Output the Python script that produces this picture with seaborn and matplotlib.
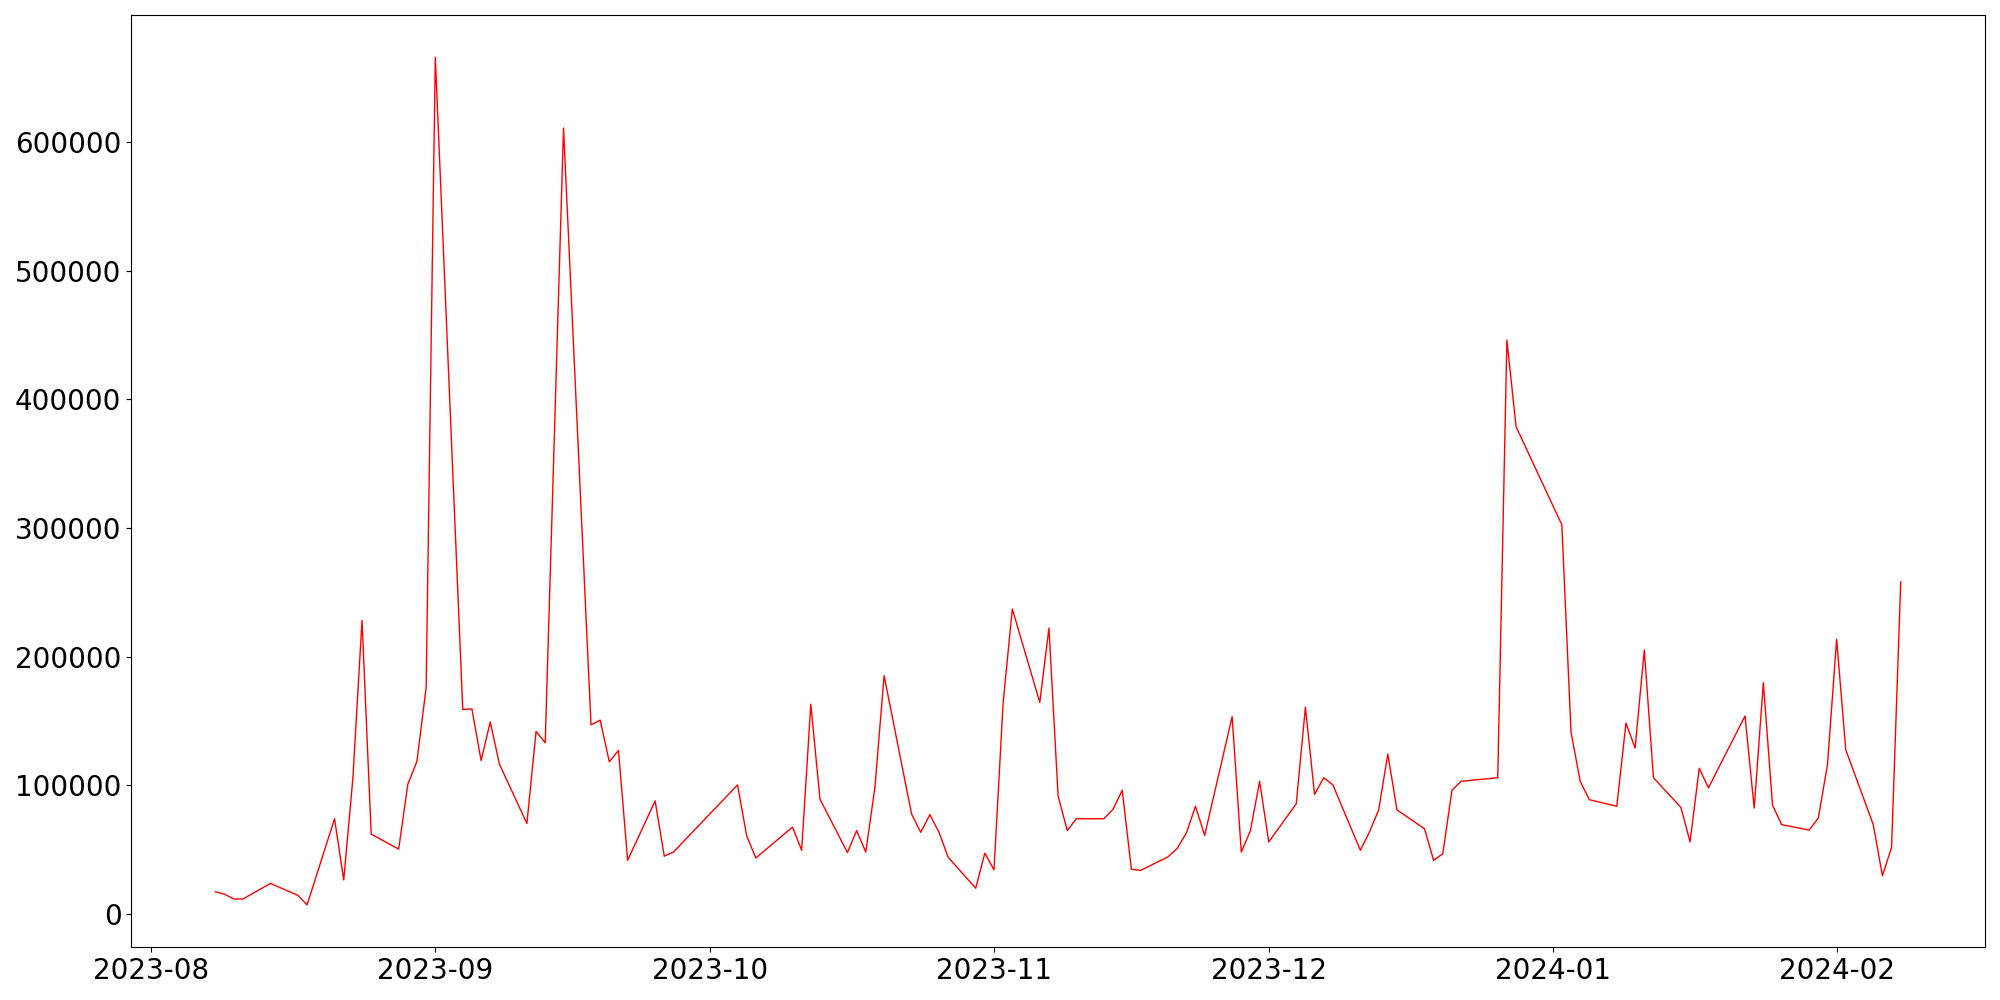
import pandas as pd
import matplotlib
matplotlib.use('Agg')
import matplotlib.pyplot as plt
import seaborn as sns

# Daily values (weekdays mostly, gaps on weekends)
dates = [
    '2023-08-08', '2023-08-09', '2023-08-10', '2023-08-11', '2023-08-14', '2023-08-17',
    '2023-08-18', '2023-08-21', '2023-08-22', '2023-08-23', '2023-08-24', '2023-08-25',
    '2023-08-28', '2023-08-29', '2023-08-30', '2023-08-31', '2023-09-01', '2023-09-04',
    '2023-09-05', '2023-09-06', '2023-09-07', '2023-09-08', '2023-09-11', '2023-09-12',
    '2023-09-13', '2023-09-15', '2023-09-18', '2023-09-19', '2023-09-20', '2023-09-21',
    '2023-09-22', '2023-09-25', '2023-09-26', '2023-09-27', '2023-10-04', '2023-10-05',
    '2023-10-06', '2023-10-10', '2023-10-11', '2023-10-12', '2023-10-13', '2023-10-16',
    '2023-10-17', '2023-10-18', '2023-10-19', '2023-10-20', '2023-10-23', '2023-10-24',
    '2023-10-25', '2023-10-26', '2023-10-27', '2023-10-30', '2023-10-31', '2023-11-01',
    '2023-11-02', '2023-11-03', '2023-11-06', '2023-11-07', '2023-11-08', '2023-11-09',
    '2023-11-10', '2023-11-13', '2023-11-14', '2023-11-15', '2023-11-16', '2023-11-17',
    '2023-11-20', '2023-11-21', '2023-11-22', '2023-11-23', '2023-11-24', '2023-11-27',
    '2023-11-28', '2023-11-29', '2023-11-30', '2023-12-01', '2023-12-04', '2023-12-05',
    '2023-12-06', '2023-12-07', '2023-12-08', '2023-12-11', '2023-12-12', '2023-12-13',
    '2023-12-14', '2023-12-15', '2023-12-18', '2023-12-19', '2023-12-20', '2023-12-21',
    '2023-12-22', '2023-12-26', '2023-12-27', '2023-12-28', '2024-01-02', '2024-01-03',
    '2024-01-04', '2024-01-05', '2024-01-08', '2024-01-09', '2024-01-10', '2024-01-11',
    '2024-01-12', '2024-01-15', '2024-01-16', '2024-01-17', '2024-01-18', '2024-01-22',
    '2024-01-23', '2024-01-24', '2024-01-25', '2024-01-26', '2024-01-29', '2024-01-30',
    '2024-01-31', '2024-02-01', '2024-02-02', '2024-02-05', '2024-02-06', '2024-02-07',
    '2024-02-08',
]

values = [
    17100, 15200, 11500, 11500, 23600, 14300,
    6900, 73900, 26300, 105300, 228200, 61900,
    50300, 100700, 118700, 176000, 666000, 158900,
    159300, 119200, 149200, 116400, 70200, 141800,
    133000, 611000, 146900, 150600, 118200, 127000,
    41600, 87800, 44800, 48000, 100200, 60500,
    43400, 67400, 49400, 163000, 89100, 47600,
    64700, 48000, 98400, 185200, 77600, 63300,
    77100, 63300, 43900, 19900, 47100, 34200,
    164400, 237000, 164400, 222200, 91500, 64700,
    73900, 73900, 81300, 96100, 34600, 33700,
    44300, 50800, 62800, 83600, 61000, 153300,
    48000, 64700, 103000, 55900, 85500, 160700,
    92800, 105800, 100200, 49400, 63700, 80800,
    124200, 80800, 66100, 41600, 46700, 96100,
    103000, 105800, 446200, 378800, 302500, 141300,
    103000, 88700, 83600, 148300, 128900, 205100,
    105800, 82700, 55900, 113200, 97900, 153800,
    82200, 179700, 84500, 69300, 65100, 74400,
    115900, 213400, 127500, 69300, 29600, 51700,
    258200,
]

df = pd.DataFrame({'date': pd.to_datetime(dates), 'value': values})

fig, ax = plt.subplots(figsize=(20, 10), dpi=100)
sns.lineplot(data=df, x='date', y='value', color='red', linewidth=1, ax=ax)
ax.set_xlabel('')
ax.set_ylabel('')
ax.tick_params(axis='both', labelsize=20)
plt.tight_layout()
plt.savefig('out.png')
